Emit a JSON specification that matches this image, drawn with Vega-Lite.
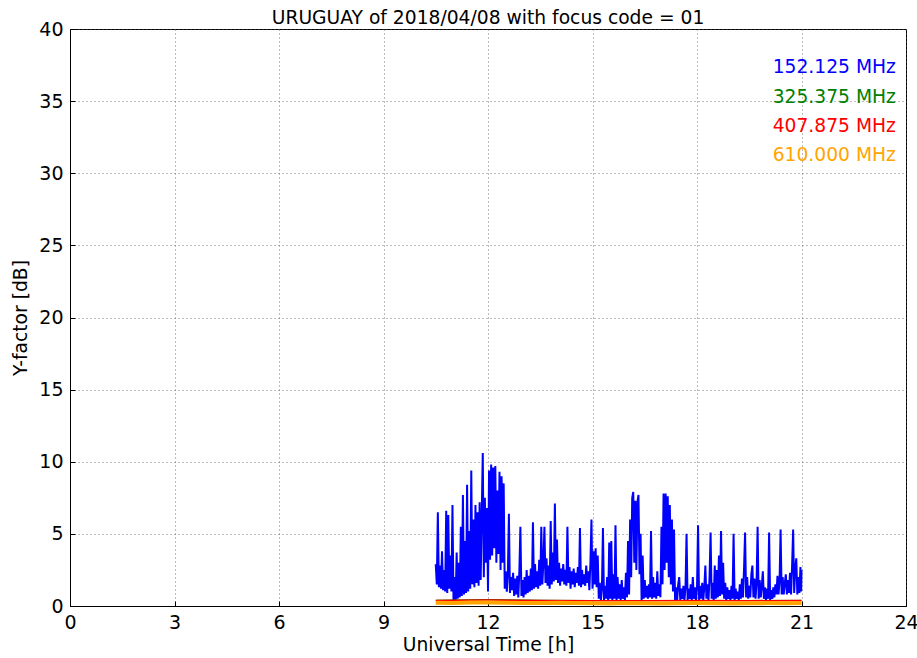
{
  "$schema": "https://vega.github.io/schema/vega-lite/v6.json",
  "width": 836,
  "height": 577,
  "autosize": {"type": "none"},
  "padding": {"left": 70, "top": 29, "right": 11, "bottom": 52},
  "background": "white",
  "title": {"text": "URUGUAY of 2018/04/08 with focus code = 01", "font": "DejaVu Sans", "fontSize": 18.7, "fontWeight": "normal", "color": "black", "offset": -8, "frame": "group"},
  "config": {
    "view": {"stroke": "black", "strokeWidth": 1},
    "axis": {"labelFont": "DejaVu Sans", "labelFontSize": 19, "labelColor": "black", "titleFont": "DejaVu Sans", "titleFontSize": 18.7, "titleFontWeight": "normal", "titleColor": "black", "domainColor": "black", "tickColor": "black", "tickSize": -5, "gridColor": "#555", "gridDash": [1, 3], "gridWidth": 1, "gridOpacity": 0.8},
    "legend": {"labelFont": "DejaVu Sans", "labelFontSize": 18.7}
  },
  "datasets": {
    "blue": [
      {"t":10.50,"v":2.9},{"t":10.53,"v":1.5},{"t":10.56,"v":6.5},{"t":10.59,"v":1.3},{"t":10.62,"v":2.8},{"t":10.65,"v":1.2},{"t":10.68,"v":3.8},{"t":10.71,"v":1.1},{"t":10.74,"v":2.5},{"t":10.77,"v":1.0},{"t":10.80,"v":6.6},{"t":10.83,"v":0.9},{"t":10.86,"v":6.3},{"t":10.89,"v":1.2},{"t":10.92,"v":3.5},{"t":10.95,"v":1.0},{"t":10.98,"v":7.0},{"t":11.01,"v":0.3},{"t":11.04,"v":2.0},{"t":11.07,"v":0.3},{"t":11.10,"v":3.7},
      {"t":11.13,"v":0.5},{"t":11.16,"v":3.0},{"t":11.19,"v":0.6},{"t":11.22,"v":5.5},{"t":11.25,"v":0.7},{"t":11.28,"v":7.7},{"t":11.31,"v":0.8},{"t":11.34,"v":4.5},{"t":11.37,"v":0.9},{"t":11.40,"v":8.4},{"t":11.43,"v":1.0},{"t":11.46,"v":5.2},{"t":11.49,"v":1.2},{"t":11.52,"v":9.4},{"t":11.55,"v":1.5},{"t":11.58,"v":6.0},{"t":11.61,"v":1.3},{"t":11.64,"v":7.0},{"t":11.67,"v":1.6},{"t":11.70,"v":6.5},{"t":11.73,"v":1.4},{"t":11.76,"v":7.2},{"t":11.79,"v":1.8},{"t":11.82,"v":6.4},{"t":11.85,"v":10.6},{"t":11.88,"v":2.0},{"t":11.91,"v":7.5},{"t":11.94,"v":3.0},{"t":11.97,"v":6.8},{"t":12.00,"v":1.0},
      {"t":12.03,"v":9.4},{"t":12.06,"v":3.2},{"t":12.09,"v":9.8},{"t":12.12,"v":3.5},{"t":12.15,"v":9.6},{"t":12.18,"v":4.0},{"t":12.21,"v":9.7},{"t":12.24,"v":3.0},{"t":12.27,"v":8.0},{"t":12.30,"v":3.6},{"t":12.33,"v":9.3},{"t":12.36,"v":2.5},{"t":12.39,"v":9.0},{"t":12.42,"v":3.0},{"t":12.45,"v":8.5},{"t":12.48,"v":1.2},
      {"t":12.51,"v":2.4},{"t":12.54,"v":1.0},{"t":12.57,"v":2.2},{"t":12.60,"v":6.4},{"t":12.63,"v":0.9},{"t":12.66,"v":2.0},{"t":12.69,"v":1.1},{"t":12.72,"v":2.3},{"t":12.75,"v":0.7},{"t":12.78,"v":1.9},{"t":12.81,"v":0.8},{"t":12.84,"v":2.1},{"t":12.87,"v":0.6},{"t":12.90,"v":2.4},{"t":12.93,"v":5.5},{"t":12.96,"v":0.7},{"t":12.99,"v":1.8},{"t":13.02,"v":0.6},{"t":13.05,"v":2.0},{"t":13.08,"v":0.8},{"t":13.11,"v":2.5},{"t":13.14,"v":0.9},{"t":13.17,"v":2.1},{"t":13.20,"v":1.0},{"t":13.23,"v":2.6},{"t":13.26,"v":1.1},{"t":13.29,"v":5.8},{"t":13.32,"v":1.2},{"t":13.35,"v":2.9},{"t":13.38,"v":1.3},{"t":13.41,"v":2.4},{"t":13.44,"v":1.2},{"t":13.47,"v":3.2},{"t":13.50,"v":1.4},{"t":13.53,"v":5.5},{"t":13.56,"v":1.5},{"t":13.59,"v":3.0},{"t":13.62,"v":5.5},{"t":13.65,"v":1.6},{"t":13.68,"v":3.3},{"t":13.71,"v":1.4},{"t":13.74,"v":2.8},{"t":13.77,"v":1.2},{"t":13.80,"v":5.9},{"t":13.83,"v":1.5},{"t":13.86,"v":3.7},{"t":13.89,"v":1.7},{"t":13.92,"v":7.1},{"t":13.95,"v":1.8},{"t":13.98,"v":4.6},{"t":14.01,"v":1.6},{"t":14.04,"v":3.0},{"t":14.07,"v":1.4},{"t":14.10,"v":2.6},{"t":14.13,"v":1.7},{"t":14.16,"v":2.9},{"t":14.19,"v":1.5},{"t":14.22,"v":2.5},{"t":14.25,"v":1.4},{"t":14.28,"v":5.5},{"t":14.31,"v":1.6},{"t":14.34,"v":2.7},{"t":14.37,"v":1.2},{"t":14.40,"v":2.4},{"t":14.43,"v":1.5},{"t":14.46,"v":2.6},{"t":14.49,"v":1.3},{"t":14.52,"v":2.3},{"t":14.55,"v":1.6},{"t":14.58,"v":2.7},{"t":14.61,"v":1.4},{"t":14.64,"v":5.4},{"t":14.67,"v":1.3},{"t":14.70,"v":2.5},{"t":14.73,"v":1.5},{"t":14.76,"v":2.2},{"t":14.79,"v":1.4},{"t":14.82,"v":2.8},{"t":14.85,"v":1.6},{"t":14.88,"v":2.4},{"t":14.91,"v":1.1},{"t":14.94,"v":3.0},{"t":14.97,"v":6.0},{"t":15.00,"v":1.2},{"t":15.03,"v":3.8},{"t":15.06,"v":1.5},{"t":15.09,"v":4.0},{"t":15.12,"v":1.3},{"t":15.15,"v":3.5},
      {"t":15.18,"v":0.5},{"t":15.21,"v":1.6},{"t":15.24,"v":0.4},{"t":15.27,"v":1.2},{"t":15.30,"v":5.4},{"t":15.33,"v":0.4},{"t":15.36,"v":1.4},{"t":15.39,"v":0.5},{"t":15.42,"v":2.0},{"t":15.45,"v":0.4},{"t":15.48,"v":4.4},{"t":15.51,"v":0.5},{"t":15.54,"v":4.5},{"t":15.57,"v":0.4},{"t":15.60,"v":2.2},{"t":15.63,"v":0.5},{"t":15.66,"v":5.6},{"t":15.69,"v":0.4},{"t":15.72,"v":2.0},{"t":15.75,"v":0.5},{"t":15.78,"v":1.5},{"t":15.81,"v":0.4},{"t":15.84,"v":1.8},{"t":15.87,"v":0.5},{"t":15.90,"v":1.3},{"t":15.93,"v":0.4},{"t":15.96,"v":2.3},{"t":15.99,"v":0.6},
      {"t":16.02,"v":4.5},{"t":16.05,"v":0.8},{"t":16.08,"v":6.0},{"t":16.11,"v":2.0},{"t":16.14,"v":7.5},{"t":16.17,"v":7.9},{"t":16.20,"v":3.0},{"t":16.23,"v":7.3},{"t":16.26,"v":2.5},{"t":16.29,"v":7.2},{"t":16.32,"v":7.7},{"t":16.35,"v":2.2},{"t":16.38,"v":5.0},{"t":16.41,"v":0.3},{"t":16.44,"v":3.5},{"t":16.47,"v":0.5},{"t":16.50,"v":1.8},{"t":16.53,"v":0.6},{"t":16.56,"v":1.4},{"t":16.59,"v":0.5},{"t":16.62,"v":1.5},{"t":16.65,"v":0.6},{"t":16.68,"v":5.2},{"t":16.71,"v":0.5},{"t":16.74,"v":2.0},{"t":16.77,"v":0.6},{"t":16.80,"v":1.6},{"t":16.83,"v":0.5},{"t":16.86,"v":2.4},{"t":16.89,"v":0.7},{"t":16.92,"v":1.5},{"t":16.95,"v":0.6},
      {"t":16.98,"v":5.5},{"t":17.01,"v":1.5},{"t":17.04,"v":7.8},{"t":17.07,"v":2.5},{"t":17.10,"v":7.8},{"t":17.13,"v":3.0},{"t":17.16,"v":7.6},{"t":17.19,"v":2.0},{"t":17.22,"v":7.0},{"t":17.25,"v":1.5},{"t":17.28,"v":6.0},{"t":17.31,"v":1.0},{"t":17.34,"v":5.3},{"t":17.37,"v":0.4},
      {"t":17.40,"v":1.3},{"t":17.43,"v":0.4},{"t":17.46,"v":1.5},{"t":17.49,"v":2.0},{"t":17.52,"v":0.4},{"t":17.55,"v":1.2},{"t":17.58,"v":0.5},{"t":17.61,"v":1.4},{"t":17.64,"v":0.4},{"t":17.67,"v":1.3},{"t":17.70,"v":5.0},{"t":17.73,"v":0.4},{"t":17.76,"v":1.2},{"t":17.79,"v":0.5},{"t":17.82,"v":1.5},{"t":17.85,"v":0.4},{"t":17.88,"v":2.0},{"t":17.91,"v":0.5},{"t":17.94,"v":1.3},{"t":17.97,"v":0.4},{"t":18.00,"v":1.2},{"t":18.03,"v":5.6},{"t":18.06,"v":0.4},{"t":18.09,"v":1.4},{"t":18.12,"v":0.5},{"t":18.15,"v":1.6},{"t":18.18,"v":0.4},{"t":18.21,"v":1.3},{"t":18.24,"v":2.8},{"t":18.27,"v":0.5},{"t":18.30,"v":1.5},{"t":18.33,"v":0.4},{"t":18.36,"v":2.0},{"t":18.39,"v":5.1},{"t":18.42,"v":0.5},{"t":18.45,"v":1.6},{"t":18.48,"v":0.4},{"t":18.51,"v":2.8},{"t":18.54,"v":0.5},{"t":18.57,"v":2.5},{"t":18.60,"v":0.6},{"t":18.63,"v":3.5},{"t":18.66,"v":0.7},{"t":18.69,"v":5.2},{"t":18.72,"v":0.8},{"t":18.75,"v":3.0},{"t":18.78,"v":0.5},{"t":18.81,"v":1.6},{"t":18.84,"v":0.4},{"t":18.87,"v":1.3},{"t":18.90,"v":0.5},{"t":18.93,"v":1.1},{"t":18.96,"v":0.4},{"t":18.99,"v":1.4},{"t":19.02,"v":0.5},{"t":19.05,"v":5.0},{"t":19.08,"v":0.4},{"t":19.11,"v":1.2},{"t":19.14,"v":0.5},{"t":19.17,"v":1.0},{"t":19.20,"v":0.4},{"t":19.23,"v":1.5},{"t":19.26,"v":0.5},{"t":19.29,"v":1.9},{"t":19.32,"v":0.6},{"t":19.35,"v":2.6},{"t":19.38,"v":5.1},{"t":19.41,"v":0.6},{"t":19.44,"v":2.0},{"t":19.47,"v":0.5},{"t":19.50,"v":1.4},{"t":19.53,"v":0.6},{"t":19.56,"v":2.2},{"t":19.59,"v":2.8},{"t":19.62,"v":0.6},{"t":19.65,"v":1.9},{"t":19.68,"v":0.5},{"t":19.71,"v":1.6},{"t":19.74,"v":5.5},{"t":19.77,"v":0.5},{"t":19.80,"v":1.8},{"t":19.83,"v":0.6},{"t":19.86,"v":1.4},{"t":19.89,"v":2.4},{"t":19.92,"v":0.5},{"t":19.95,"v":1.3},{"t":19.98,"v":0.4},{"t":20.01,"v":1.2},{"t":20.04,"v":0.5},{"t":20.07,"v":5.1},{"t":20.10,"v":0.4},{"t":20.13,"v":1.1},{"t":20.16,"v":0.5},{"t":20.19,"v":1.3},{"t":20.22,"v":0.6},{"t":20.25,"v":1.5},{"t":20.28,"v":0.8},{"t":20.31,"v":2.1},{"t":20.34,"v":0.8},{"t":20.37,"v":1.7},{"t":20.40,"v":5.3},{"t":20.43,"v":0.8},{"t":20.46,"v":2.0},{"t":20.49,"v":0.8},{"t":20.52,"v":1.6},{"t":20.55,"v":2.2},{"t":20.58,"v":0.8},{"t":20.61,"v":1.8},{"t":20.64,"v":0.9},{"t":20.67,"v":2.3},{"t":20.70,"v":0.8},{"t":20.73,"v":2.8},{"t":20.76,"v":5.3},{"t":20.79,"v":0.9},{"t":20.82,"v":2.6},{"t":20.85,"v":3.3},{"t":20.88,"v":0.8},{"t":20.91,"v":2.0},{"t":20.94,"v":0.9},{"t":20.97,"v":2.7},{"t":20.99,"v":1.0},{"t":21.00,"v":2.5}
    ],
    "others": [
      {"s":"325.375 MHz","t":10.5,"v":0.40},{"s":"325.375 MHz","t":12.0,"v":0.45},{"s":"325.375 MHz","t":13.5,"v":0.40},{"s":"325.375 MHz","t":15.0,"v":0.38},{"s":"325.375 MHz","t":18.0,"v":0.38},{"s":"325.375 MHz","t":21.0,"v":0.39},
      {"s":"407.875 MHz","t":10.5,"v":0.38},{"s":"407.875 MHz","t":12.0,"v":0.42},{"s":"407.875 MHz","t":13.5,"v":0.38},{"s":"407.875 MHz","t":15.0,"v":0.36},{"s":"407.875 MHz","t":16.5,"v":0.37},{"s":"407.875 MHz","t":18.0,"v":0.38},{"s":"407.875 MHz","t":19.5,"v":0.37},{"s":"407.875 MHz","t":21.0,"v":0.38},
      {"s":"610.000 MHz","t":10.5,"v":0.22},{"s":"610.000 MHz","t":11.0,"v":0.20},{"s":"610.000 MHz","t":11.5,"v":0.24},{"s":"610.000 MHz","t":12.0,"v":0.25},{"s":"610.000 MHz","t":12.5,"v":0.23},{"s":"610.000 MHz","t":13.0,"v":0.21},{"s":"610.000 MHz","t":13.5,"v":0.20},{"s":"610.000 MHz","t":14.0,"v":0.22},{"s":"610.000 MHz","t":14.5,"v":0.20},{"s":"610.000 MHz","t":15.0,"v":0.19},{"s":"610.000 MHz","t":15.5,"v":0.18},{"s":"610.000 MHz","t":16.0,"v":0.20},{"s":"610.000 MHz","t":16.5,"v":0.19},{"s":"610.000 MHz","t":17.0,"v":0.18},{"s":"610.000 MHz","t":17.5,"v":0.19},{"s":"610.000 MHz","t":18.0,"v":0.20},{"s":"610.000 MHz","t":18.5,"v":0.19},{"s":"610.000 MHz","t":19.0,"v":0.18},{"s":"610.000 MHz","t":19.5,"v":0.19},{"s":"610.000 MHz","t":20.0,"v":0.20},{"s":"610.000 MHz","t":20.5,"v":0.19},{"s":"610.000 MHz","t":21.0,"v":0.20}
    ]
  },
  "encoding": {
    "x": {"field": "t", "type": "quantitative", "scale": {"domain": [0, 24], "nice": false, "zero": false}, "axis": {"values": [0, 3, 6, 9, 12, 15, 18, 21, 24], "title": "Universal Time [h]", "labelPadding": 12, "titlePadding": 3, "labelFlush": false}},
    "y": {"field": "v", "type": "quantitative", "scale": {"domain": [0, 40], "nice": false}, "axis": {"values": [0, 5, 10, 15, 20, 25, 30, 35, 40], "title": "Y-factor [dB]", "labelPadding": 12, "titlePadding": 8}}
  },
  "layer": [
    {
      "data": {"name": "blue"},
      "mark": {"type": "line", "strokeWidth": 2, "clip": true},
      "encoding": {
        "color": {"datum": "152.125 MHz", "type": "nominal", "scale": {"domain": ["152.125 MHz", "325.375 MHz", "407.875 MHz", "610.000 MHz"], "range": ["#0000ff", "#008000", "#ff0000", "#ffa500"]},
          "legend": {"orient": "top-right", "offset": 0, "padding": 10, "title": " ", "titleFontSize": 18, "titlePadding": 1, "symbolSize": 0, "symbolStrokeWidth": 0, "symbolOpacity": 0, "labelOffset": 0, "rowPadding": 9.3,
            "encode": {"labels": {"update": {"fill": {"scale": "color", "field": "value"}}}}}}
      }
    },
    {
      "data": {"name": "others"},
      "transform": [{"filter": "datum.s === '325.375 MHz'"}],
      "mark": {"type": "line", "strokeWidth": 1, "clip": true},
      "encoding": {"color": {"field": "s", "type": "nominal"}}
    },
    {
      "data": {"name": "others"},
      "transform": [{"filter": "datum.s === '407.875 MHz'"}],
      "mark": {"type": "line", "strokeWidth": 1.5, "clip": true},
      "encoding": {"color": {"field": "s", "type": "nominal"}}
    },
    {
      "data": {"name": "others"},
      "transform": [{"filter": "datum.s === '610.000 MHz'"}],
      "mark": {"type": "line", "strokeWidth": 4, "clip": true},
      "encoding": {"color": {"field": "s", "type": "nominal"}}
    }
  ]
}
